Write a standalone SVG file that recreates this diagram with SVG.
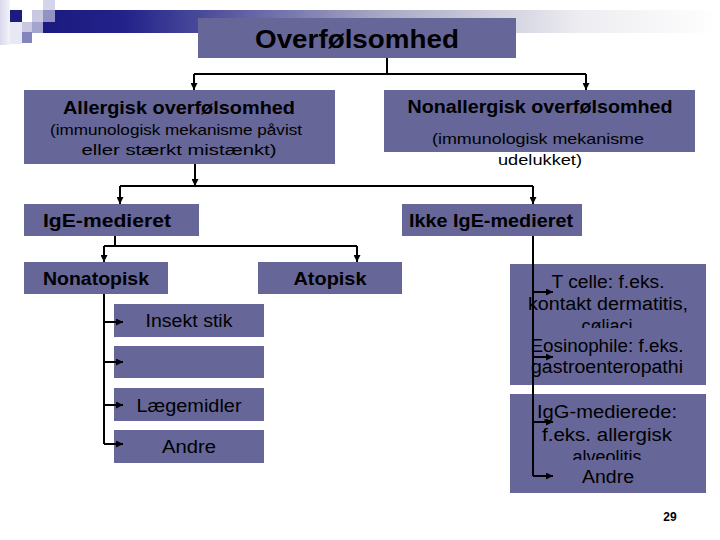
<svg xmlns="http://www.w3.org/2000/svg" width="720" height="540" viewBox="0 0 720 540">
<defs>
<linearGradient id="bar" x1="0" y1="0" x2="1" y2="0">
<stop offset="0" stop-color="#1a1a80"/>
<stop offset="0.12" stop-color="#22228a"/>
<stop offset="0.5" stop-color="#a8a8c4"/>
<stop offset="0.8" stop-color="#eeeef2"/>
<stop offset="1" stop-color="#ffffff"/>
</linearGradient>
<linearGradient id="strip" x1="0" y1="0" x2="1" y2="0">
<stop offset="0" stop-color="#d8d8ec"/>
<stop offset="1" stop-color="#f4f4fa"/>
</linearGradient>
<marker id="ah" viewBox="0 0 10 10" refX="10" refY="5" markerWidth="7" markerHeight="7" markerUnits="userSpaceOnUse" orient="auto">
<path d="M0,0 L10,5 L0,10 z" fill="#000"/>
</marker>
<clipPath id="clipA"><rect x="510" y="264" width="196" height="64"/></clipPath>
<clipPath id="clipB"><rect x="510" y="394" width="196" height="66"/></clipPath>
</defs>
<style>
.box{fill:#666699}
.t{font-family:"Liberation Sans",Arial,sans-serif;fill:#000;text-anchor:middle}
.b{font-weight:bold}
.c{fill:none;stroke:#000;stroke-width:2}
.a{fill:none;stroke:#000;stroke-width:2;marker-end:url(#ah)}
</style>
<g id="decoration">
<rect x="0" y="0" width="10" height="45" fill="url(#strip)"/>
<rect x="10" y="22" width="12" height="22" fill="#e8e8f4"/>
<rect x="43" y="10" width="677" height="23" fill="url(#bar)"/>
<rect x="10" y="10" width="12" height="12" fill="#1c1c80"/>
<rect x="32" y="10" width="11" height="12" fill="#c8c8e0"/>
<rect x="43" y="0" width="12" height="10" fill="#d4d4ea"/>
<rect x="43" y="10" width="12" height="12" fill="#9292c4"/>
<rect x="22" y="22" width="10" height="10" fill="#c8c8e0"/>
<rect x="32" y="22" width="11" height="11" fill="#a4a4d0"/>
<rect x="22" y="32" width="10" height="11" fill="#8484bc"/>
</g>
<g id="n-title"><rect class="box" x="198" y="18" width="318" height="40"/><text class="t b" x="357" y="48" font-size="26" textLength="204" lengthAdjust="spacingAndGlyphs">Overfølsomhed</text></g>
<g id="n-allergisk"><rect class="box" x="24" y="90" width="311" height="74"/>
<text class="t b" x="179" y="114" font-size="18" textLength="232" lengthAdjust="spacingAndGlyphs">Allergisk overfølsomhed</text>
<text class="t" x="176" y="135" font-size="15" textLength="252" lengthAdjust="spacingAndGlyphs">(immunologisk mekanisme påvist</text>
<text class="t" x="179" y="155" font-size="15" textLength="195" lengthAdjust="spacingAndGlyphs">eller stærkt mistænkt)</text></g>
<g id="n-nonallergisk"><rect class="box" x="384" y="90" width="311" height="62"/>
<text class="t b" x="540" y="113" font-size="18" textLength="265" lengthAdjust="spacingAndGlyphs">Nonallergisk overfølsomhed</text>
<text class="t" x="538" y="144" font-size="15" textLength="212" lengthAdjust="spacingAndGlyphs">(immunologisk mekanisme</text>
<text class="t" x="540" y="165" font-size="15" textLength="84" lengthAdjust="spacingAndGlyphs">udelukket)</text></g>
<g id="n-ige"><rect class="box" x="24" y="204" width="175" height="32"/><text class="t b" x="107" y="227" font-size="18" textLength="128" lengthAdjust="spacingAndGlyphs">IgE-medieret</text></g>
<g id="n-ikkeige"><rect class="box" x="402" y="204" width="180" height="32"/><text class="t b" x="491" y="227" font-size="18" textLength="164" lengthAdjust="spacingAndGlyphs">Ikke IgE-medieret</text></g>
<g id="n-nonatopisk"><rect class="box" x="24" y="262" width="144" height="32"/><text class="t b" x="96" y="285" font-size="18" textLength="106" lengthAdjust="spacingAndGlyphs">Nonatopisk</text></g>
<g id="n-atopisk"><rect class="box" x="258" y="262" width="144" height="32"/><text class="t b" x="330" y="285" font-size="18" textLength="73" lengthAdjust="spacingAndGlyphs">Atopisk</text></g>
<g id="n-insekt"><rect class="box" x="114" y="304" width="150" height="33"/><text class="t" x="189" y="327" font-size="18" textLength="87" lengthAdjust="spacingAndGlyphs">Insekt stik</text></g>
<g id="n-empty"><rect class="box" x="114" y="346" width="150" height="32"/></g>
<g id="n-laegemidler"><rect class="box" x="114" y="388" width="150" height="33"/><text class="t" x="189" y="412" font-size="18" textLength="105" lengthAdjust="spacingAndGlyphs">Lægemidler</text></g>
<g id="n-andre1"><rect class="box" x="114" y="430" width="150" height="33"/><text class="t" x="189" y="453" font-size="18" textLength="54" lengthAdjust="spacingAndGlyphs">Andre</text></g>
<g id="n-tcelle"><rect class="box" x="510" y="264" width="196" height="64"/>
<text class="t" x="608" y="288" font-size="18" textLength="113" lengthAdjust="spacingAndGlyphs">T celle: f.eks.</text>
<text class="t" x="608" y="310" font-size="18" textLength="160" lengthAdjust="spacingAndGlyphs">kontakt dermatitis,</text>
<text class="t" x="607" y="332" font-size="18" clip-path="url(#clipA)">cøliaci</text></g>
<g id="n-eosinophile"><rect class="box" x="510" y="328" width="196" height="57"/>
<text class="t" x="607" y="352" font-size="18" textLength="153" lengthAdjust="spacingAndGlyphs">Eosinophile: f.eks.</text>
<text class="t" x="607" y="373" font-size="18" textLength="152" lengthAdjust="spacingAndGlyphs">gastroenteropathi</text></g>
<g id="n-igg"><rect class="box" x="510" y="394" width="196" height="66"/>
<text class="t" x="607" y="418" font-size="18" textLength="140" lengthAdjust="spacingAndGlyphs">IgG-medierede:</text>
<text class="t" x="607" y="441" font-size="18" textLength="130" lengthAdjust="spacingAndGlyphs">f.eks. allergisk</text>
<text class="t" x="607" y="463" font-size="18" clip-path="url(#clipB)">alveolitis</text></g>
<g id="n-andre2"><rect class="box" x="510" y="460" width="196" height="33"/>
<text class="t" x="608" y="483" font-size="18" textLength="52" lengthAdjust="spacingAndGlyphs">Andre</text></g>
<g id="connectors">
<path class="c" d="M387,58 V74 M194,74 H586"/>
<path class="a" d="M194,74 V90"/>
<path class="a" d="M586,74 V90"/>
<path class="a" d="M195,164 V186"/>
<path class="c" d="M120,186 H533"/>
<path class="a" d="M120,186 V204"/>
<path class="a" d="M533,186 V204"/>
<path class="c" d="M115,236 V246 M104,246 H357"/>
<path class="a" d="M104,246 V262"/>
<path class="a" d="M357,246 V262"/>
<path class="c" d="M104,294 V444"/>
<path class="a" d="M104,322 H123"/>
<path class="a" d="M104,362 H123"/>
<path class="a" d="M104,405 H123"/>
<path class="a" d="M104,444 H123"/>
<path class="c" d="M533,236 V476"/>
<path class="a" d="M533,292 H553"/>
<path class="a" d="M533,357 H553"/>
<path class="a" d="M533,422 H553"/>
<path class="a" d="M533,476 H553"/>
</g>
<text class="t b" x="670" y="521" font-size="12">29</text>
</svg>
